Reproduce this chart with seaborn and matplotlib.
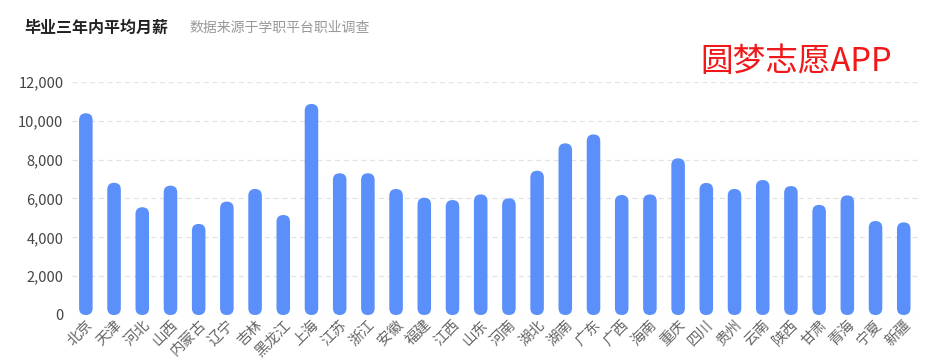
import matplotlib
matplotlib.use("Agg")
import matplotlib.pyplot as plt
import pandas as pd
import seaborn as sns
from matplotlib.patches import FancyBboxPatch
from matplotlib.ticker import FuncFormatter

provinces = ["北京", "天津", "河北", "山西", "内蒙古", "辽宁", "吉林", "黑龙江", "上海", "江苏",
             "浙江", "安徽", "福建", "江西", "山东", "河南", "湖北", "湖南", "广东", "广西",
             "海南", "重庆", "四川", "贵州", "云南", "陕西", "甘肃", "青海", "宁夏", "新疆"]
salary = [10390, 6810, 5550, 6660, 4690, 5840, 6490, 5150, 10870, 7300,
          7300, 6490, 6040, 5920, 6210, 6010, 7430, 8840, 9300, 6180,
          6210, 8070, 6800, 6490, 6950, 6640, 5670, 6160, 4840, 4770]
y_ticks = [0, 2000, 4000, 6000, 8000, 10000, 12000]

sns.set_theme(style="white")
plt.rcParams["font.family"] = ["Noto Sans CJK SC", "DejaVu Sans"]

df = pd.DataFrame({"省份": provinces, "月薪": salary})

fig = plt.figure(figsize=(9.38, 3.59), dpi=100)
ax = fig.add_axes([0.0765, 0.1226, 0.902, 0.649])
bar_w = 0.48
sns.barplot(data=df, x="省份", y="月薪", color="#5B8FF9", width=bar_w, ax=ax, saturation=1)
ax.set_ylim(0, 12000)
ax.set_xlim(-0.5, len(provinces) - 0.5)

# swap the square bars for capsules
bbox = ax.get_window_extent()
aspect = (12000 / bbox.height) / (len(provinces) / bbox.width)
for p in list(ax.patches):
    x, y, w, h = p.get_x(), p.get_y(), p.get_width(), p.get_height()
    p.remove()
    ax.add_patch(FancyBboxPatch((x, y), w, h, boxstyle=f"round,pad=0,rounding_size={w / 2}",
                                mutation_aspect=aspect, facecolor="#5B8FF9", edgecolor="none"))

ax.set_yticks(y_ticks)
ax.yaxis.set_major_formatter(FuncFormatter(lambda v, _: f"{int(v):,}"))
for v in y_ticks:
    ax.axhline(v, color="#e3e3e3", lw=0.9, ls=(0, (4, 3)), zorder=0)
sns.despine(ax=ax, left=True, bottom=True)
ax.tick_params(axis="y", length=0, labelsize=10.5, labelcolor="#444", pad=6)
ax.tick_params(axis="x", length=0, labelsize=10.5, labelcolor="#666", pad=2)
plt.setp(ax.get_xticklabels(), rotation=45, ha="right", rotation_mode="anchor")
ax.set_xlabel("")
ax.set_ylabel("")

fig.text(0.026, 0.922, "毕业三年内平均月薪", fontsize=11.5, fontweight="bold", color="#222", va="center")
fig.text(0.202, 0.922, "数据来源于学职平台职业调查", fontsize=10, color="#999", va="center")
fig.text(0.747, 0.828, "圆梦志愿APP", fontsize=23.5, color="#f01818", va="center")

fig.savefig("out.png", dpi=100)
